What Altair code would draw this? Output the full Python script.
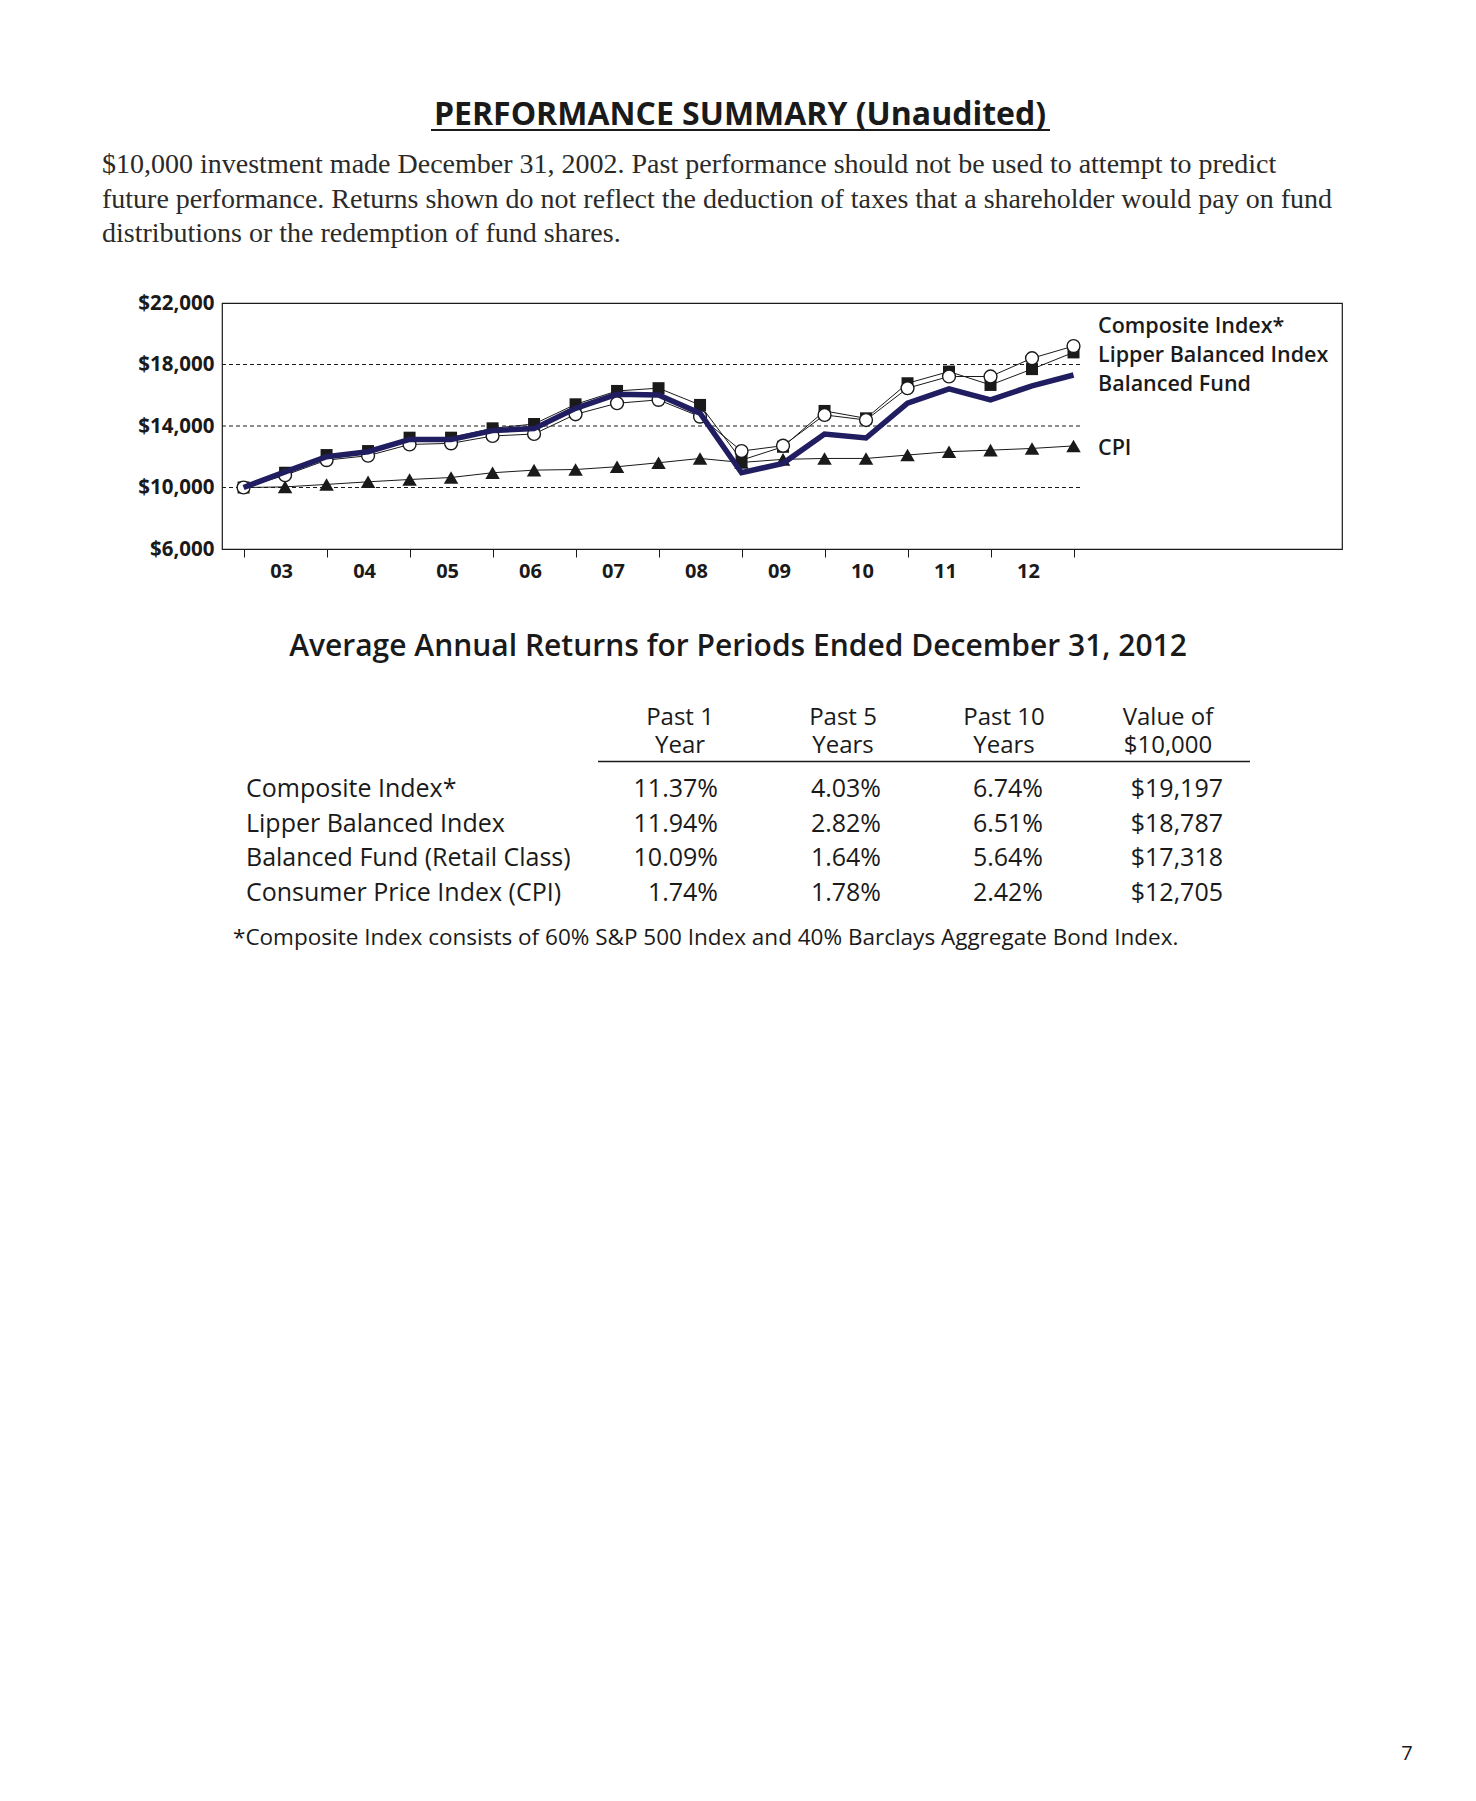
import altair as alt
import pandas as pd

# ---------------- data ----------------
periods = list(range(21))  # semi-annual points, Dec 2002 ... Dec 2012
composite = [10000, 10800, 11780, 12070, 12800, 12870, 13350, 13480, 14760, 15480, 15700,
             14610, 12370, 12720, 14720, 14390, 16460, 17220, 17220, 18410, 19197]
lipper = [10000, 10960, 12110, 12370, 13240, 13240, 13850, 14130, 15410, 16280, 16460,
          15370, 11780, 12650, 14980, 14500, 16780, 17540, 16670, 17700, 18787]
balanced = [10000, 11020, 12000, 12330, 13130, 13130, 13700, 13830, 15150, 16070, 16020,
            14830, 10960, 11570, 13480, 13220, 15480, 16410, 15700, 16610, 17318]
cpi = [10000, 10040, 10200, 10370, 10520, 10650, 10960, 11130, 11170, 11350, 11610,
       11890, 11630, 11830, 11890, 11890, 12110, 12330, 12430, 12540, 12705]

year_labels = ["03", "04", "05", "06", "07", "08", "09", "10", "11", "12"]
year_pos = [1, 3, 5, 7, 9, 11, 13, 15, 17, 19]
year_ticks = [0, 2, 4, 6, 8, 10, 12, 14, 16, 18, 20]
y_ticks = [6000, 10000, 14000, 18000, 22000]
grid_values = [10000, 14000, 18000]
legend_names = ["Composite Index*", "Lipper Balanced Index", "Balanced Fund", "CPI"]

title_text = "PERFORMANCE SUMMARY (Unaudited)"
intro_lines = [
    "$10,000 investment made December 31, 2002. Past performance should not be used to attempt to predict",
    "future performance.  Returns shown do not reflect the deduction of taxes that a shareholder would pay on fund",
    "distributions or the redemption of fund shares.",
]
table_title = "Average Annual Returns for Periods Ended December 31, 2012"
col_headers_top = ["Past 1", "Past 5", "Past 10", "Value of"]
col_headers_bottom = ["Year", "Years", "Years", "$10,000"]
row_names = ["Composite Index*", "Lipper Balanced Index", "Balanced Fund (Retail Class)",
             "Consumer Price Index (CPI)"]
past1 = ["11.37%", "11.94%", "10.09%", "1.74%"]
past5 = ["4.03%", "2.82%", "1.64%", "1.78%"]
past10 = ["6.74%", "6.51%", "5.64%", "2.42%"]
value10k = ["$19,197", "$18,787", "$17,318", "$12,705"]
footnote = "*Composite Index consists of 60% S&P 500 Index and 40% Barclays Aggregate Bond Index."
page_number = "7"

# ---------------- styling ----------------
SANS = "Open Sans"
SERIF = "Liberation Serif"
INK = "#1a1a1a"
NAVY = "#201d60"
W, H = 1120, 246

xs = alt.Scale(domain=[-0.52, 26.47], nice=False, zero=False)
ys = alt.Scale(domain=[6000, 22000], nice=False, zero=False)


def series_df(vals):
    return pd.DataFrame({"idx": periods, "value": vals})


X = alt.X("idx:Q", scale=xs, axis=None)
Y = alt.Y("value:Q", scale=ys, axis=None)

# gridlines (stop just after the last data point, where the labels begin)
grid = alt.Chart(pd.DataFrame({"g": grid_values})).mark_rule(
    color=INK, strokeWidth=1, strokeDash=[4, 3]
).encode(x=alt.value(0), x2=alt.value(861), y=alt.Y("g:Q", scale=ys, axis=None))

# axes carrier
axes = alt.Chart(series_df(cpi)).mark_line(color=INK, strokeWidth=1).encode(
    x=alt.X("idx:Q", scale=xs, axis=alt.Axis(values=year_ticks, labels=False, tickSize=8,
                                              tickColor=INK, tickWidth=1, domain=False,
                                              grid=False, title=None)),
    y=alt.Y("value:Q", scale=ys, axis=alt.Axis(values=y_ticks, format="$,d", ticks=False,
                                                domain=False, grid=False, title=None,
                                                labelFont=SANS, labelFontSize=20.5,
                                                labelFontWeight="bold", labelColor=INK,
                                                labelPadding=8)),
)
cpi_pts = alt.Chart(series_df(cpi)[1:]).mark_point(
    shape="triangle-up", filled=True, color=INK, size=210, opacity=1
).encode(x=X, y=Y)

lip_line = alt.Chart(series_df(lipper)).mark_line(color=INK, strokeWidth=1).encode(x=X, y=Y)
lip_pts = alt.Chart(series_df(lipper)).mark_point(
    shape="square", filled=True, color=INK, size=144, opacity=1
).encode(x=X, y=Y)

comp_line = alt.Chart(series_df(composite)).mark_line(color=INK, strokeWidth=1).encode(x=X, y=Y)
comp_pts = alt.Chart(series_df(composite)).mark_point(
    shape="circle", filled=True, fill="white", stroke=INK, strokeWidth=1.4, size=165, opacity=1
).encode(x=X, y=Y)

bal_line = alt.Chart(series_df(balanced)).mark_line(color=NAVY, strokeWidth=5.5).encode(x=X, y=Y)

years = alt.Chart(pd.DataFrame({"pos": year_pos, "label": year_labels})).mark_text(
    font=SANS, fontSize=20, fontWeight="bold", color=INK, align="center",
    baseline="alphabetic", dx=-3.5
).encode(x=alt.X("pos:Q", scale=xs, axis=None), y=alt.value(275), text="label:N")

legend_y = [30, 58.7, 87.7, 152]
legend_layers = [
    alt.Chart(pd.DataFrame({"t": [name]})).mark_text(
        font=SANS, fontSize=21.5, fontWeight=600, color=INK, align="left", baseline="alphabetic"
    ).encode(x=alt.value(876), y=alt.value(yy), text="t:N")
    for name, yy in zip(legend_names, legend_y)
]

# ---------------- page texts ----------------
title = alt.Chart(pd.DataFrame({"t": [title_text]})).mark_text(
    font=SANS, fontSize=32, fontWeight="bold", color=INK, align="center", baseline="alphabetic"
).encode(x=alt.value(518), y=alt.value(-178), text="t:N")
title_rule = alt.Chart(pd.DataFrame({"a": [0]})).mark_rule(color=INK, strokeWidth=2).encode(
    x=alt.value(209), x2=alt.value(828), y=alt.value(-173))

intro = alt.Chart(pd.DataFrame({"a": [0]})).mark_text(
    text=intro_lines, font=SERIF, fontSize=28, color="#2a2a2a", align="left",
    baseline="alphabetic", lineHeight=34.5
).encode(x=alt.value(-120), y=alt.value(-130))

tbl_title = alt.Chart(pd.DataFrame({"t": [table_title]})).mark_text(
    font=SANS, fontSize=30, fontWeight=600, color=INK, align="center", baseline="alphabetic"
).encode(x=alt.value(516), y=alt.value(353), text="t:N")

header_x = [458, 621, 782, 946]
hdr_df = pd.DataFrame({"top": col_headers_top, "bottom": col_headers_bottom})
header_layers = []
for i, hx in enumerate(header_x):
    sub = hdr_df.iloc[[i]]
    header_layers.append(alt.Chart(sub).mark_text(
        font=SANS, fontSize=24, fontWeight=500, color=INK, align="center", baseline="alphabetic"
    ).encode(x=alt.value(hx), y=alt.value(421.5), text="top:N"))
    header_layers.append(alt.Chart(sub).mark_text(
        font=SANS, fontSize=24, fontWeight=500, color=INK, align="center", baseline="alphabetic"
    ).encode(x=alt.value(hx), y=alt.value(450), text="bottom:N"))
header_rule = alt.Chart(pd.DataFrame({"a": [0]})).mark_rule(color=INK, strokeWidth=1.5).encode(
    x=alt.value(376), x2=alt.value(1028), y=alt.value(458.5))

row_scale = alt.Scale(domain=[0, 3], range=[494, 598])
row_df = pd.DataFrame({"r": [0, 1, 2, 3], "name": row_names, "c1": past1, "c2": past5,
                       "c3": past10, "c4": value10k})
row_labels = alt.Chart(row_df).mark_text(
    font=SANS, fontSize=25, fontWeight=500, color=INK, align="left", baseline="alphabetic"
).encode(x=alt.value(24), y=alt.Y("r:Q", scale=row_scale, axis=None), text="name:N")

value_right = [496, 659, 821, 1001]
value_layers = [
    alt.Chart(row_df).mark_text(
        font=SANS, fontSize=25, fontWeight=500, color=INK, align="right", baseline="alphabetic"
    ).encode(x=alt.value(vx), y=alt.Y("r:Q", scale=row_scale, axis=None), text=f"{col}:N")
    for col, vx in zip(["c1", "c2", "c3", "c4"], value_right)
]

foot = alt.Chart(pd.DataFrame({"t": [footnote]})).mark_text(
    font=SANS, fontSize=22.5, fontWeight=500, color=INK, align="left", baseline="alphabetic"
).encode(x=alt.value(11), y=alt.value(642), text="t:N")

page = alt.Chart(pd.DataFrame({"t": [page_number]})).mark_text(
    font=SANS, fontSize=20, color=INK, align="center", baseline="alphabetic"
).encode(x=alt.value(1185), y=alt.value(1457), text="t:N")

chart = alt.layer(
    grid, axes, cpi_pts, lip_line, lip_pts, comp_line, comp_pts, bal_line, years,
    *legend_layers, title, title_rule, intro, tbl_title, *header_layers, header_rule,
    row_labels, *value_layers, foot, page
).resolve_scale(x="independent", y="independent").properties(
    width=W, height=H,
    autosize=alt.AutoSizeParams(type="none"),
    padding={"left": 214, "top": 295, "right": 110, "bottom": 1230},
    background="white",
).configure_view(stroke=INK, strokeWidth=1.2)

chart.save("out.html", embed_options={"renderer": "svg", "actions": False})
